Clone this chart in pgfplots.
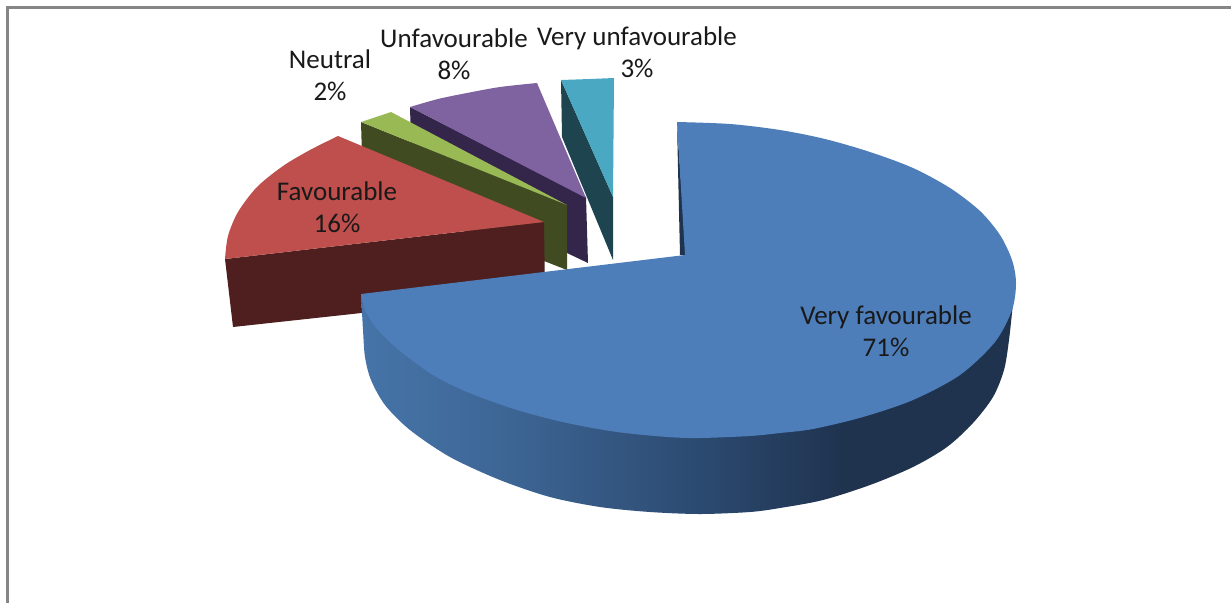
\documentclass[border=0pt]{standalone}
\usepackage{pgfplots}
\pgfplotsset{compat=1.18}
\usepackage{fontspec}
\setmainfont{Carlito}
\definecolor{frame}{HTML}{868686}
\definecolor{bluetop}{HTML}{4D7EBA}
\definecolor{bluedark}{HTML}{1F334F}
\definecolor{redtop}{HTML}{BE4F4C}
\definecolor{reddark}{HTML}{4E1F1E}
\definecolor{greentop}{HTML}{98B954}
\definecolor{greendark}{HTML}{404B22}
\definecolor{purpletop}{HTML}{7F62A0}
\definecolor{purpledark}{HTML}{34264A}
\definecolor{tealtop}{HTML}{4AA8C2}
\definecolor{tealdark}{HTML}{1E4450}
\pgfdeclarehorizontalshading{bluesideshade}{100bp}{
 rgb(0bp)=(0.275,0.455,0.66);
 rgb(25bp)=(0.275,0.455,0.66);
 rgb(36bp)=(0.24,0.40,0.585);
 rgb(51bp)=(0.172,0.29,0.44);
 rgb(62bp)=(0.122,0.20,0.31);
 rgb(100bp)=(0.122,0.20,0.31)}
\begin{document}
\begin{tikzpicture}
\begin{axis}[scale only axis,width=1231pt,height=603pt,
  xmin=0,xmax=1231,ymin=0,ymax=603,y dir=reverse,
  hide axis,clip=true]
\path (axis cs:0,0) rectangle (axis cs:1231,603);
\addplot[frame,line width=3pt] coordinates {(7.5,603) (7.5,7) (1231,7)};
% very unfavourable 3%
\addplot[fill=tealdark,draw=none] coordinates {(561,80) (613,197) (613,260) (562,137)} -- cycle;
\addplot[fill=tealtop,draw=none] coordinates {(561,80) (590,79) (614,78) (613,197)} -- cycle;
% unfavourable 8%
\addplot[fill=purpledark,draw=none] coordinates {(410,107) (586,197) (588,263) (567,253) (412,175)} -- cycle;
\addplot[fill=purpletop,draw=none,smooth] coordinates {(410,107) (438,99) (467,93) (500,87) (537,83)} -- (axis cs:586,198) -- cycle;
% neutral 2%
\addplot[fill=greendark,draw=none] coordinates {(361,122) (567,205) (567,270) (363,190)} -- cycle;
\addplot[fill=greentop,draw=none] coordinates {(361,122) (376,117) (391,112) (567,205)} -- cycle;
% favourable 16%
\addplot[fill=reddark,draw=none] coordinates {(225,259) (544,222) (545,293) (233,327)} -- cycle;
\addplot[fill=redtop,draw=none,smooth] coordinates {(338,136) (310,150) (283,166) (257,187) (238,212) (228,236) (225,259)} -- (axis cs:544,222) -- cycle;
% very favourable 71%
\addplot[fill=bluedark,draw=none] coordinates {(677,124) (680,255) (686,255)} -- cycle;
\addplot[shading=bluesideshade,draw=none,smooth] coordinates {(361,294) (363,330) (365,357) (371,380) (385,405) (410,430) (450,457) (500,480) (550,497) (600,507) (650,512) (700,514) (750,512) (780,508) (823,500) (870,485) (913,467) (947,447) (973,423) (993,397) (1004,370) (1009,340) (1013,303)} -- cycle;
\addplot[fill=bluetop,draw=none,smooth] coordinates {(677,122) (730,124) (780,130) (825,139) (870,152) (913,168) (950,188) (980,211) (1000,235) (1012,260) (1016,283) (1012,310) (995,342) (960,375) (913,400) (863,417) (813,429) (780,433) (750,436) (700,438) (667,437) (617,432) (567,423) (517,410) (467,392) (433,375) (400,351) (377,329) (365,310) (361,294)} -- (axis cs:685,255) -- cycle;
\tikzset{lab/.style={font=\fontsize{27}{32}\selectfont,align=center,text=black!90,inner sep=0pt}}
\node[lab] at (axis cs:886,331) {Very favourable\\71\%};
\node[lab] at (axis cs:337,207) {Favourable\\16\%};
\node[lab] at (axis cs:330,75) {Neutral\\2\%};
\node[lab] at (axis cs:454,54) {Unfavourable\\8\%};
\node[lab] at (axis cs:637,52) {Very unfavourable\\3\%};
\end{axis}
\end{tikzpicture}
\end{document}
